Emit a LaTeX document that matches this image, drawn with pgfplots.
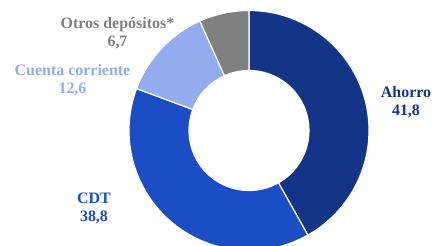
\documentclass[border=0pt]{standalone}
\usepackage{pgfplots}
\pgfplotsset{compat=1.18}
\usepackage{pgfplotstable}
\usepackage{fontspec}
\setmainfont{Liberation Serif}
\definecolor{cAhorro}{RGB}{19,52,135}
\definecolor{cCDT}{RGB}{27,77,196}
\definecolor{cCuenta}{RGB}{147,172,240}
\definecolor{cOtros}{RGB}{128,128,128}
\pgfplotstableread{
label value
Ahorro 41.8
CDT 38.8
Cuenta 12.6
Otros 6.7
}\data
\newcommand\donutwedge[3]{%
  \fill[#3, draw=white, line width=1.2pt]
    (axis cs:{120*cos(#1)},{120*sin(#1)}) arc[start angle=#1, end angle=#2, radius=120bp]
    -- (axis cs:{60*cos(#2)},{60*sin(#2)}) arc[start angle=#2, end angle=#1, radius=60bp] -- cycle;}
\begin{document}
\begin{tikzpicture}
\pgfplotstablegetelem{0}{value}\of\data \let\va\pgfplotsretval
\pgfplotstablegetelem{1}{value}\of\data \let\vb\pgfplotsretval
\pgfplotstablegetelem{2}{value}\of\data \let\vc\pgfplotsretval
\pgfplotstablegetelem{3}{value}\of\data \let\vd\pgfplotsretval
\pgfmathsetmacro\tot{\va+\vb+\vc+\vd}
\pgfmathsetmacro\aA{90}
\pgfmathsetmacro\aB{\aA-360*\va/\tot}
\pgfmathsetmacro\aC{\aB-360*\vb/\tot}
\pgfmathsetmacro\aD{\aC-360*\vc/\tot}
\pgfmathsetmacro\aE{\aD-360*\vd/\tot}
\begin{axis}[
  x=1bp, y=1bp,
  xmin=-249, xmax=183, ymin=-115.5, ymax=130.5,
  hide axis, clip=true,
]
\addplot[draw=none] coordinates {(0,0)};
\donutwedge{\aA}{\aB}{cAhorro}
\donutwedge{\aB}{\aC}{cCDT}
\donutwedge{\aC}{\aD}{cCuenta}
\donutwedge{\aD}{\aE}{cOtros}
\begin{scope}[font=\fontsize{16}{18}\selectfont\bfseries, align=center]
\node[text=cAhorro] at (axis cs:157,28.5) {Ahorro\\41,8};
\node[text=cCDT] at (axis cs:-155,-78) {CDT\\38,8};
\node[text=cCuenta] at (axis cs:-176.5,50.5) {Cuenta corriente\\12,6};
\node[text=cOtros] at (axis cs:-131.5,97) {Otros depósitos*\\6,7};
\end{scope}
\end{axis}
\pgfresetboundingbox
\useasboundingbox (current axis.south west) rectangle (current axis.north east);
\end{tikzpicture}
\end{document}
